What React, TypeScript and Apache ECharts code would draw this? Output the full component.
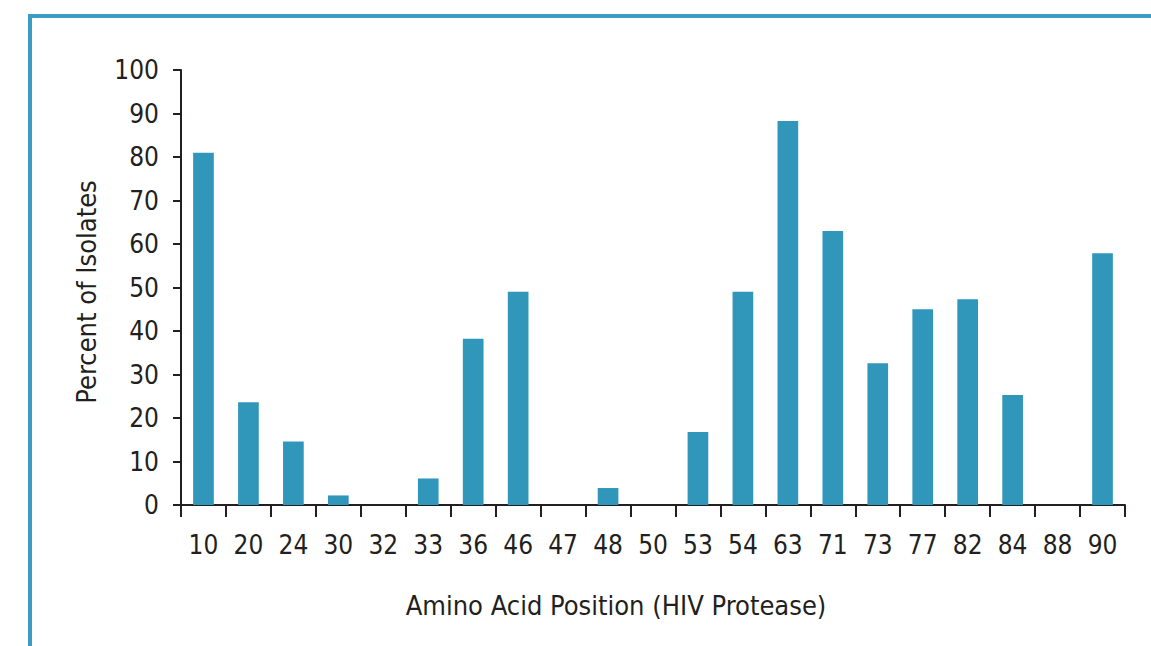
import React, { useEffect, useRef } from "react";
import * as echarts from "echarts";

const categories = ["10", "20", "24", "30", "32", "33", "36", "46", "47", "48", "50", "53", "54", "63", "71", "73", "77", "82", "84", "88", "90"];
const percentValues = [81, 23.6, 14.6, 2.2, 0, 6.1, 38.2, 49, 0, 3.9, 0, 16.8, 49, 88.3, 63, 32.6, 45, 47.3, 25.3, 0, 57.9];
const yTicks = { min: 0, max: 100, interval: 10 };
const xTitle = "Amino Acid Position (HIV Protease)";
const yTitle = "Percent of Isolates";

const FONT = "'Liberation Sans Narrow', 'DejaVu Sans Condensed', 'Roboto Condensed', Roboto, sans-serif";
const AXIS_COLOR = "#231f20";
const BAR_COLOR = "#3097bb";
const BORDER_COLOR = "#3a9cc2";

export default function App() {
  const ref = useRef<HTMLDivElement>(null);
  useEffect(() => {
    if (!ref.current) return;
    const chart = echarts.init(ref.current, null, { renderer: "svg" });
    chart.setOption({
      animation: false,
      backgroundColor: "#ffffff",
      grid: { left: 181, top: 70, right: 26, bottom: 141 },
      graphic: [
        { type: "rect", shape: { x: 28, y: 14, width: 1200, height: 4 }, style: { fill: BORDER_COLOR } },
        { type: "rect", shape: { x: 28, y: 14, width: 4, height: 700 }, style: { fill: BORDER_COLOR } },
        {
          type: "text",
          x: 616,
          y: 605,
          style: { text: xTitle, fontFamily: FONT, fontSize: 27, fill: AXIS_COLOR, textAlign: "center", textVerticalAlign: "middle" },
        },
        {
          type: "text",
          x: 86,
          y: 292,
          rotation: Math.PI / 2,
          style: { text: yTitle, fontFamily: FONT, fontSize: 27, fill: AXIS_COLOR, textAlign: "center", textVerticalAlign: "middle" },
        },
      ],
      xAxis: {
        type: "category",
        data: categories,
        boundaryGap: true,
        axisLine: { lineStyle: { color: AXIS_COLOR, width: 2 } },
        axisTick: { show: true, length: 12, lineStyle: { color: AXIS_COLOR, width: 2 } },
        axisLabel: { fontFamily: FONT, fontSize: 26, color: AXIS_COLOR, margin: 27, interval: 0 },
      },
      yAxis: {
        type: "value",
        min: yTicks.min,
        max: yTicks.max,
        interval: yTicks.interval,
        axisLine: { show: true, lineStyle: { color: AXIS_COLOR, width: 2 } },
        axisTick: { show: true, length: 8, lineStyle: { color: AXIS_COLOR, width: 2 } },
        axisLabel: { fontFamily: FONT, fontSize: 26, color: AXIS_COLOR, margin: 22 },
        splitLine: { show: false },
      },
      series: [
        {
          type: "bar",
          data: percentValues,
          barWidth: "46%",
          itemStyle: { color: BAR_COLOR },
        },
      ],
    });
    return () => chart.dispose();
  }, []);
  return <div ref={ref} style={{ position: "fixed", left: 0, top: 0, width: 1151, height: 646 }} />;
}
